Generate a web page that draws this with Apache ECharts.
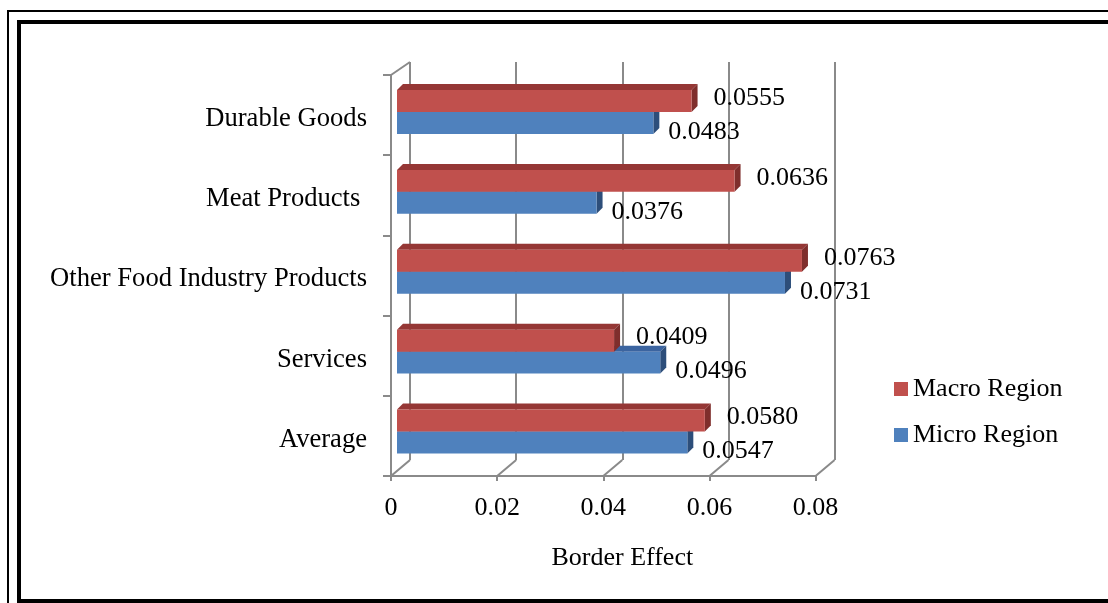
<!DOCTYPE html>
<html>
<head>
<meta charset="utf-8">
<script src="https://cdn.jsdelivr.net/npm/echarts@6/dist/echarts.min.js"></script>
<style>
  body { margin: 0; background: #fff; }
  #chart { position: absolute; left: 0; top: 0; width: 1108px; height: 603px; }
  .frame { position: absolute; box-sizing: border-box; border-style: solid; border-color: #000; pointer-events: none; }
</style>
</head>
<body>
<div id="chart"></div>
<div class="frame" style="left:7px; top:10px; width:1200px; height:700px; border-width:2px;"></div>
<div class="frame" style="left:17px; top:20px; width:1200px; height:583px; border-width:4px;"></div>
<script>
const categories = ['Durable Goods', 'Meat Products ', 'Other Food Industry Products', 'Services', 'Average'];
const macroRegion = [0.0555, 0.0636, 0.0763, 0.0409, 0.0580];
const microRegion = [0.0483, 0.0376, 0.0731, 0.0496, 0.0547];
const xTicks = [0, 0.02, 0.04, 0.06, 0.08];

const FONT = "'Liberation Serif', 'Times New Roman', serif";
const GRID_COLOR = '#8a8a8a';

const chart = echarts.init(document.getElementById('chart'));

// 3D-looking bar drawn from the axes: front face, top face, right side
function bar3d(upper, colors, labelDx, labelDy) {
  return function (params, api) {
    const cat = api.value(1);
    const v = api.value(0);
    const start = api.coord([0, cat]);
    const end = api.coord([v, cat]);
    const h = api.size([0, 1])[1] * 0.275;
    const d = 6;
    const x0 = start[0], x1 = end[0];
    const y0 = upper ? start[1] - h : start[1];
    return {
      type: 'group',
      children: [
        { type: 'polygon', shape: { points: [[x0, y0], [x0 + d, y0 - d], [x1 + d, y0 - d], [x1, y0]] }, style: { fill: colors.top } },
        { type: 'polygon', shape: { points: [[x1, y0], [x1 + d, y0 - d], [x1 + d, y0 + h - d], [x1, y0 + h]] }, style: { fill: colors.side } },
        { type: 'rect', shape: { x: x0, y: y0, width: x1 - x0, height: h }, style: { fill: colors.front } },
        {
          type: 'text', z2: 10,
          style: {
            text: v.toFixed(4), x: x1 + labelDx, y: y0 + h / 2 + labelDy,
            fill: '#000', font: '26px ' + FONT, verticalAlign: 'middle', align: 'left'
          }
        }
      ]
    };
  };
}

// floor / side edges of the 3D box
function frameRender(params, api) {
  const cs = params.coordSys;
  const x = api.coord([api.value(0), 0])[0];
  const yb = cs.y + cs.height;
  const lineStyle = { stroke: GRID_COLOR, lineWidth: 2 };
  const children = [
    { type: 'line', shape: { x1: x, y1: yb, x2: x + 19, y2: yb - 16 }, style: lineStyle }
  ];
  if (params.dataIndex === 0) {
    children.push({ type: 'line', shape: { x1: cs.x, y1: cs.y, x2: cs.x + 19, y2: cs.y - 13 }, style: lineStyle });
  }
  return { type: 'group', children: children };
}

chart.setOption({
  animation: false,
  backgroundColor: '#fff',
  legend: {
    orient: 'vertical',
    left: 889,
    top: 368,
    icon: 'rect',
    itemWidth: 14,
    itemHeight: 14,
    itemGap: 14,
    data: ['Macro Region', 'Micro Region'],
    textStyle: { fontFamily: FONT, fontSize: 26, color: '#000', lineHeight: 32 }
  },
  grid: [
    { left: 397, top: 72, width: 424.6, height: 399.5 },
    { left: 391, top: 75, width: 424.6, height: 401 },
    { left: 410, top: 62, width: 424.6, height: 398 }
  ],
  xAxis: [
    { gridIndex: 0, type: 'value', min: 0, max: 0.08, interval: 0.02, show: false },
    {
      gridIndex: 1, type: 'value', min: 0, max: 0.08, interval: 0.02,
      axisLine: { show: true, lineStyle: { color: GRID_COLOR, width: 2 } },
      axisTick: { show: true, length: 5, lineStyle: { color: GRID_COLOR, width: 2 } },
      axisLabel: { fontFamily: FONT, fontSize: 26, color: '#000', margin: 19 },
      splitLine: { show: false }
    },
    {
      gridIndex: 2, type: 'value', min: 0, max: 0.08, interval: 0.02,
      axisLine: { show: false }, axisTick: { show: false }, axisLabel: { show: false },
      splitLine: { show: true, lineStyle: { color: GRID_COLOR, width: 2 } },
      name: 'Border Effect', nameLocation: 'middle', nameGap: 85,
      nameTextStyle: { fontFamily: FONT, fontSize: 26, color: '#000' }
    }
  ],
  yAxis: [
    { gridIndex: 0, type: 'category', data: categories, inverse: true, show: false },
    {
      gridIndex: 1, type: 'category', data: categories, inverse: true,
      axisLine: { show: true, lineStyle: { color: GRID_COLOR, width: 2 } },
      axisTick: { show: true, length: 8, lineStyle: { color: GRID_COLOR, width: 2 } },
      axisLabel: {
        margin: 24,
        formatter: v => '{c|' + v + '}',
        rich: { c: { fontFamily: FONT, fontSize: 26.6, color: '#000', padding: [8, 0, 0, 0] } }
      }
    },
    { gridIndex: 2, type: 'category', data: categories, inverse: true, show: false }
  ],
  series: [
    {
      type: 'custom', name: 'frame', xAxisIndex: 1, yAxisIndex: 1, clip: false, silent: true,
      data: xTicks.map(v => [v, 0]),
      renderItem: frameRender
    },
    {
      type: 'custom', name: 'Micro Region', xAxisIndex: 0, yAxisIndex: 0, clip: false,
      itemStyle: { color: '#4F81BD' },
      encode: { x: 0, y: 1 },
      data: microRegion.map((v, i) => [v, i]),
      renderItem: bar3d(false, { front: '#4F81BD', top: '#3B64A0', side: '#2D4E7A' }, 15, 9)
    },
    {
      type: 'custom', name: 'Macro Region', xAxisIndex: 0, yAxisIndex: 0, clip: false,
      itemStyle: { color: '#C0504D' },
      encode: { x: 0, y: 1 },
      data: macroRegion.map((v, i) => [v, i]),
      renderItem: bar3d(true, { front: '#C0504D', top: '#953735', side: '#7F2E2C' }, 22, -3)
    }
  ]
});
</script>
</body>
</html>
